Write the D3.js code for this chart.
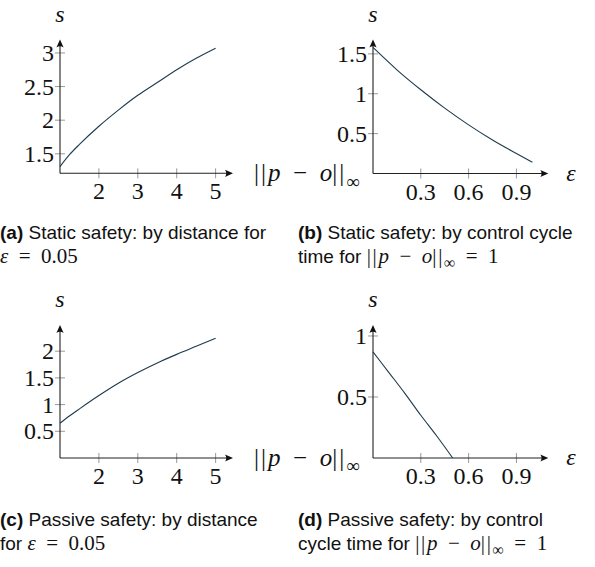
<!DOCTYPE html>
<html>
<head>
<meta charset="utf-8">
<script src="https://cdn.jsdelivr.net/npm/d3@7"></script>
<style>
  body { margin: 0; background: #fff; }
  svg { display: block; }
  .tick-label { font-family: "Liberation Serif", "DejaVu Serif", serif; font-size: 24px; fill: #111; }
  .math { font-family: "Liberation Serif", "DejaVu Serif", serif; fill: #111; }
  .caption { font-family: "Liberation Sans", Arial, sans-serif; font-size: 19px; fill: #111; }
</style>
</head>
<body>
<svg width="595" height="567"></svg>
<script>
var distance = [1, 1.25, 1.5, 2, 2.5, 3, 3.5, 4, 4.5, 5];
var staticByDistance = [1.31, 1.49, 1.64, 1.91, 2.15, 2.37, 2.56, 2.75, 2.92, 3.07];
var passiveByDistance = [0.65, 0.79, 0.92, 1.17, 1.40, 1.60, 1.78, 1.94, 2.09, 2.24];

var cycleB = [0, 0.15, 0.3, 0.45, 0.6, 0.75, 0.9, 1.0];
var staticByCycle = [1.58, 1.30, 1.05, 0.82, 0.61, 0.42, 0.25, 0.14];

var cycleD = [0, 0.1, 0.2, 0.3, 0.4, 0.5];
var passiveByCycle = [0.87, 0.70, 0.53, 0.35, 0.18, 0];

var distTicks = [2, 3, 4, 5];
var cycleTicks = [0.3, 0.6, 0.9];
var yTicksA = [1.5, 2, 2.5, 3];
var yTicksB = [0.5, 1, 1.5];
var yTicksC = [0.5, 1, 1.5, 2];
var yTicksD = [0.5, 1];

var svg = d3.select('svg');
var lineColor = '#1d3b4c';

function fmt(v) {
    return String(v);
}

function arrowHead(g, x, y, dir) {
    // latex-ish arrow tip, dir: 'right' or 'up'
    var p = 'M0,0 L-8,-3.6 Q-5.5,0 -8,3.6 Z';
    var rot = dir === 'up' ? -90 : 0;
    g.append('path')
        .attr('d', p)
        .attr('transform', 'translate(' + x + ',' + y + ') rotate(' + rot + ')')
        .attr('fill', '#111');
}

// ||p - o||_inf, as real text
function normParts(t, size, gap) {
    t.append('tspan').style('font-size', size + 'px').style('letter-spacing', (size * 0.08) + 'px').text('||');
    t.append('tspan').style('font-size', size + 'px').style('font-style', 'italic').text('p');
    t.append('tspan').style('font-size', size + 'px').text(gap + '\u2212' + gap);
    t.append('tspan').style('font-size', size + 'px').style('font-style', 'italic').text('o');
    t.append('tspan').style('font-size', size + 'px').style('letter-spacing', (size * 0.08) + 'px').text('||');
    t.append('tspan').attr('dy', size * 0.25).style('font-size', (size * 0.75) + 'px').text('\u221e');
}

function drawPanel(cfg) {
    var g = svg.append('g');
    var x = d3.scaleLinear().domain(cfg.xDomain).range([cfg.left, cfg.right]);
    var y = d3.scaleLinear().domain(cfg.yDomain).range([cfg.bottom, cfg.top]);

    // tick marks
    g.selectAll('.xt').data(cfg.xTicks).enter().append('line')
        .attr('x1', function(d) { return x(d); })
        .attr('x2', function(d) { return x(d); })
        .attr('y1', cfg.bottom - 5)
        .attr('y2', cfg.bottom + 5)
        .attr('stroke', '#999')
        .attr('stroke-width', 1);
    g.selectAll('.yt').data(cfg.yTicks).enter().append('line')
        .attr('x1', cfg.left - 5)
        .attr('x2', cfg.left + 5)
        .attr('y1', function(d) { return y(d); })
        .attr('y2', function(d) { return y(d); })
        .attr('stroke', '#999')
        .attr('stroke-width', 1);

    // axis lines
    g.append('line')
        .attr('x1', cfg.left).attr('x2', cfg.right - 3)
        .attr('y1', cfg.bottom).attr('y2', cfg.bottom)
        .attr('stroke', '#222').attr('stroke-width', 1.1);
    g.append('line')
        .attr('x1', cfg.left).attr('x2', cfg.left)
        .attr('y1', cfg.bottom).attr('y2', cfg.top + 3)
        .attr('stroke', '#222').attr('stroke-width', 1.1);
    arrowHead(g, cfg.right, cfg.bottom, 'right');
    arrowHead(g, cfg.left, cfg.top, 'up');

    // tick labels
    g.selectAll('.xl').data(cfg.xTicks).enter().append('text')
        .attr('class', 'tick-label')
        .attr('x', function(d) { return x(d); })
        .attr('y', cfg.bottom + 26)
        .attr('text-anchor', 'middle')
        .text(fmt);
    g.selectAll('.yl').data(cfg.yTicks).enter().append('text')
        .attr('class', 'tick-label')
        .attr('x', cfg.left - 6)
        .attr('y', function(d) { return y(d) + 8; })
        .attr('text-anchor', 'end')
        .text(fmt);

    // curve
    var pts = cfg.xs.map(function(v, i) { return [v, cfg.ys[i]]; });
    var line = d3.line()
        .x(function(d) { return x(d[0]); })
        .y(function(d) { return y(d[1]); })
        .curve(d3.curveMonotoneX);
    g.append('path')
        .datum(pts)
        .attr('d', line)
        .attr('fill', 'none')
        .attr('stroke', lineColor)
        .attr('stroke-width', 1.1);

    // axis labels
    g.append('text')
        .attr('class', 'math')
        .attr('x', cfg.left)
        .attr('y', cfg.top - 18)
        .attr('text-anchor', 'middle')
        .style('font-size', '24px')
        .style('font-style', 'italic')
        .text('s');
    if (cfg.xLabel === 'norm') {
        var t = g.append('text')
            .attr('class', 'math')
            .attr('x', cfg.right + 21)
            .attr('y', cfg.bottom + 8);
        normParts(t, 25, '\u2002');
    } else {
        g.append('text')
            .attr('class', 'math')
            .attr('x', cfg.right + 18)
            .attr('y', cfg.bottom + 7)
            .style('font-size', '24px')
            .style('font-style', 'italic')
            .text('\u03b5');
    }
}

drawPanel({
    xs: distance, ys: staticByDistance,
    xDomain: [1, 5.447], yDomain: [1.21, 3.2],
    left: 60, right: 233, top: 39.5, bottom: 173.3,
    xTicks: distTicks, yTicks: yTicksA, xLabel: 'norm'
});
drawPanel({
    xs: cycleB, ys: staticByCycle,
    xDomain: [0, 1.1], yDomain: [0, 1.68],
    left: 373, right: 548.3, top: 39.5, bottom: 173.5,
    xTicks: cycleTicks, yTicks: yTicksB, xLabel: 'eps'
});
drawPanel({
    xs: distance, ys: passiveByDistance,
    xDomain: [1, 5.447], yDomain: [0, 2.49],
    left: 60, right: 233, top: 325, bottom: 458,
    xTicks: distTicks, yTicks: yTicksC, xLabel: 'norm'
});
drawPanel({
    xs: cycleD, ys: passiveByCycle,
    xDomain: [0, 1.1], yDomain: [0, 1.09],
    left: 373, right: 548.3, top: 325, bottom: 458,
    xTicks: cycleTicks, yTicks: yTicksD, xLabel: 'eps'
});

// captions
function caption(x, y, tag, line1, line2) {
    var t = svg.append('text').attr('class', 'caption').attr('x', x).attr('y', y);
    t.append('tspan').style('font-weight', 'bold').text('(' + tag + ')');
    t.append('tspan').text(' ' + line1);
    var t2 = svg.append('text').attr('class', 'caption').attr('x', x).attr('y', y + 24);
    line2(t2);
}
function epsPart(t) {
    t.append('tspan').attr('class', 'math').style('font-style', 'italic').style('font-size', '21px').text('\u03b5');
    t.append('tspan').attr('class', 'math').style('font-size', '21px').text('\u2002=\u20020.05');
}
function normPart(t) {
    var m = t.append('tspan').attr('class', 'math');
    normParts(m, 21, '\u2002');
    m.append('tspan').attr('dy', -5).style('font-size', '21px').text('\u2002=\u20021');
}

var capTop = 239, capBottom = 526;
caption(0, capTop, 'a', 'Static safety: by distance for', function(t) { epsPart(t); });
caption(298, capTop, 'b', 'Static safety: by control cycle', function(t) {
    t.append('tspan').text('time for ');
    normPart(t);
});
caption(0, capBottom, 'c', 'Passive safety: by distance', function(t) {
    t.append('tspan').text('for ');
    epsPart(t);
});
caption(298, capBottom, 'd', 'Passive safety: by control', function(t) {
    t.append('tspan').text('cycle time for ');
    normPart(t);
});
</script>
</body>
</html>
